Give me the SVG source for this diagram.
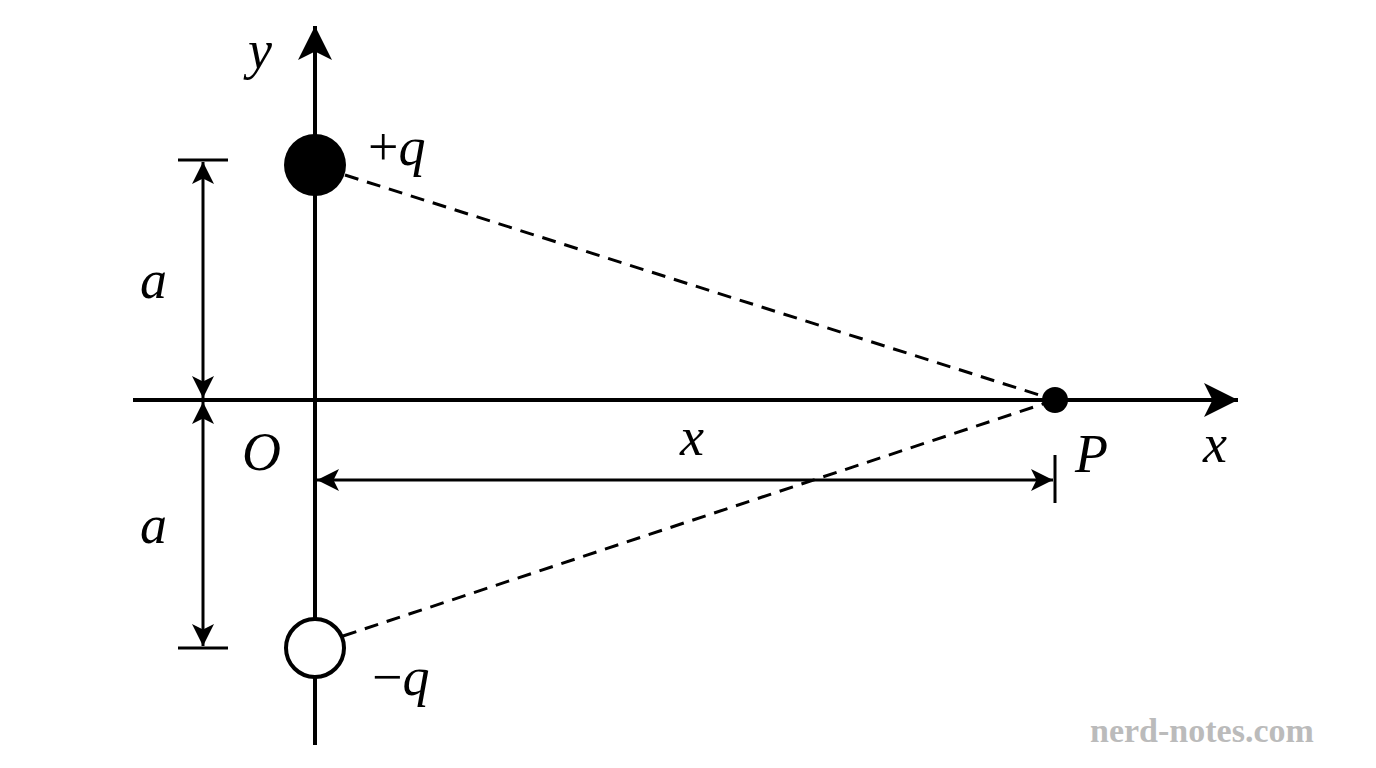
<svg xmlns="http://www.w3.org/2000/svg" width="1376" height="768" viewBox="0 0 1376 768">
<style>
.ax{stroke:#000;stroke-width:4;fill:none}
.dim{stroke:#000;stroke-width:3;fill:none}
.dash{stroke:#000;stroke-width:3;fill:none;stroke-dasharray:14 9}
.lbl{font-family:"Liberation Serif",serif;font-style:italic;font-size:54px;fill:#000}
.wm{font-family:"Liberation Serif",serif;font-weight:bold;font-size:34px;fill:#bbb}
</style>
<defs>
<marker id="big" markerWidth="12" markerHeight="10" refX="10" refY="5" orient="auto" markerUnits="userSpaceOnUse" viewBox="0 0 12 10"><path d="M0,0 L12,5 L0,10 L3,5Z" fill="#000"/></marker>
<marker id="ah" viewBox="0 0 10 10" refX="10" refY="5" markerWidth="28" markerHeight="22" orient="auto-start-reverse" markerUnits="userSpaceOnUse"><path d="M0,0 L10,5 L0,10 L2.5,5Z" fill="#000"/></marker>
<marker id="axh" viewBox="0 0 10 10" refX="10" refY="5" markerWidth="42" markerHeight="34" orient="auto" markerUnits="userSpaceOnUse"><path d="M0,0 L10,5 L0,10 L2.5,5Z" fill="#000"/></marker>
</defs>
<rect width="1376" height="768" fill="#fff"/>
<g id="connectors">
<line class="dash" x1="345" y1="175" x2="1055" y2="400"/>
<line class="dash" x1="343" y1="636" x2="1055" y2="400"/>
<line class="ax" x1="315" y1="745" x2="315" y2="26" marker-end="url(#axh)"/>
<line class="ax" x1="133" y1="400" x2="1238" y2="400" marker-end="url(#axh)"/>
<line class="dim" x1="178" y1="160" x2="228" y2="160"/>
<line class="dim" x1="178" y1="648" x2="228" y2="648"/>
<line class="dim" x1="203" y1="162" x2="203" y2="398" marker-start="url(#ah)" marker-end="url(#ah)"/>
<line class="dim" x1="203" y1="402" x2="203" y2="646" marker-start="url(#ah)" marker-end="url(#ah)"/>
<line class="dim" x1="1055" y1="455" x2="1055" y2="503"/>
<line class="dim" x1="317" y1="480" x2="1053" y2="480" marker-start="url(#ah)" marker-end="url(#ah)"/>
</g>
<g id="plus-q"><circle cx="315" cy="165" r="31" fill="#000"/><text class="lbl" x="368" y="165" style="font-style:normal">+<tspan style="font-style:italic">q</tspan></text></g>
<g id="minus-q"><circle cx="315" cy="648" r="29" fill="#fff" stroke="#000" stroke-width="4"/><text class="lbl" x="372" y="695" style="font-style:normal">−<tspan style="font-style:italic">q</tspan></text></g>
<g id="P"><circle cx="1055" cy="400" r="13" fill="#000"/><text class="lbl" x="1075" y="472">P</text></g>
<g id="labels">
<text class="lbl" x="248" y="68">y</text>
<text class="lbl" x="140" y="298">a</text>
<text class="lbl" x="140" y="543">a</text>
<text class="lbl" x="242" y="470">O</text>
<text class="lbl" x="680" y="455">x</text>
<text class="lbl" x="1203" y="462">x</text>
</g>
<text class="wm" x="1090" y="742">nerd-notes.com</text>
</svg>
